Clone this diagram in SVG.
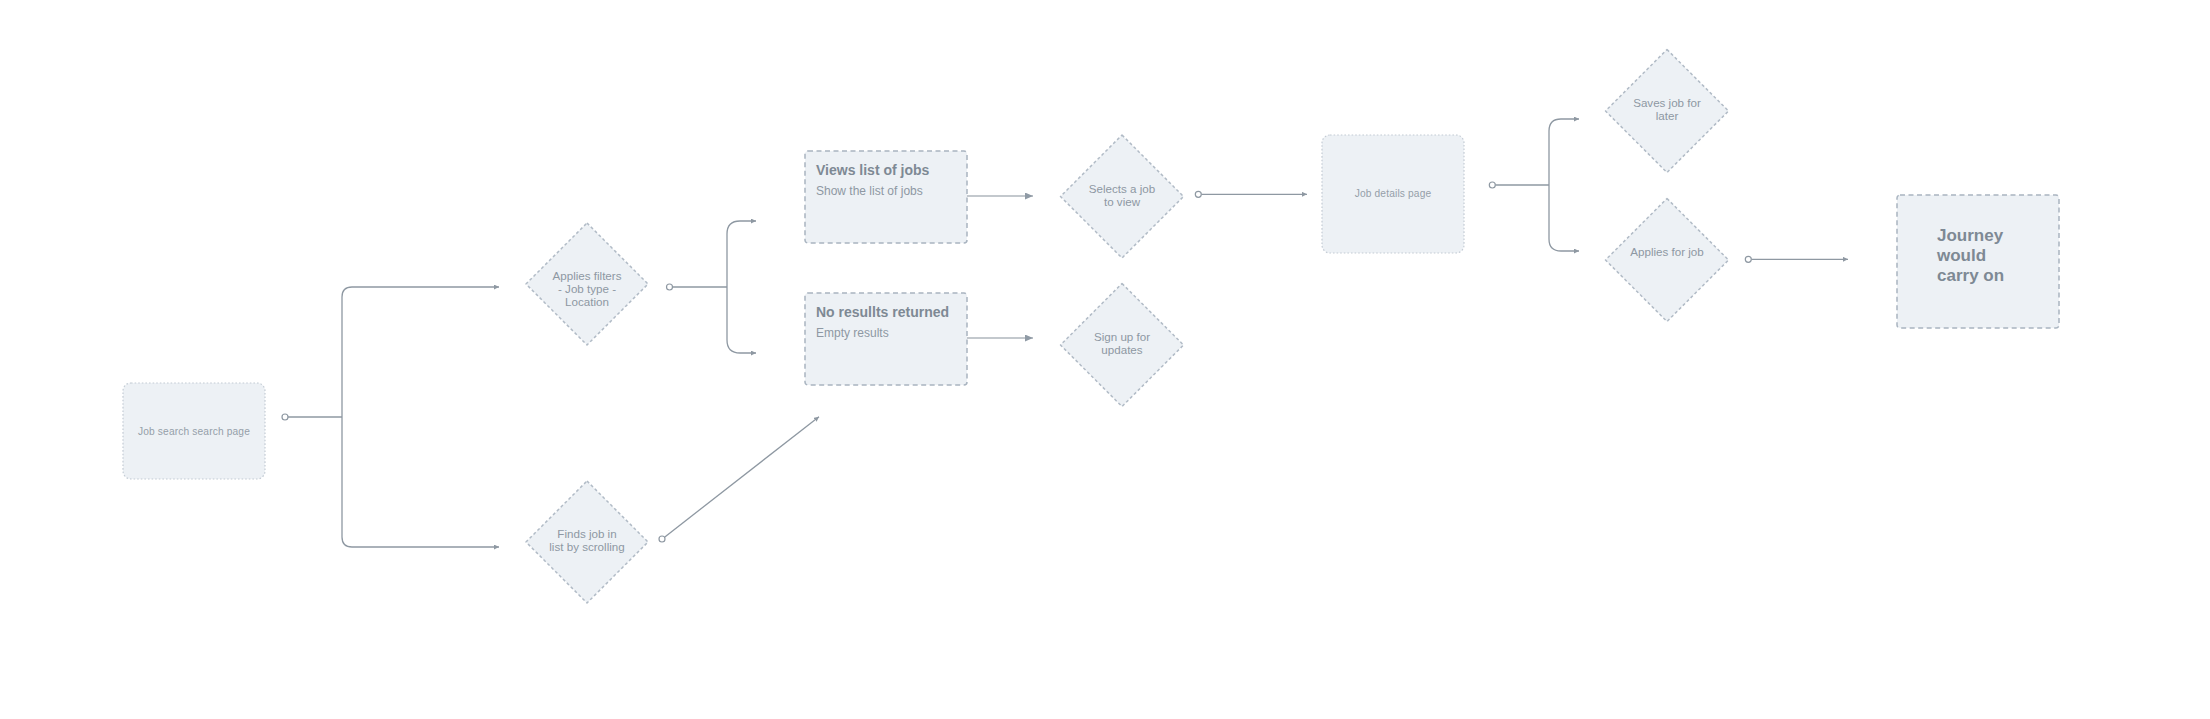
<svg xmlns="http://www.w3.org/2000/svg" width="2210" height="719" viewBox="0 0 2210 719">
<defs>
<style>
.page{fill:#edf1f5;stroke:#c3cbd4;stroke-width:1.2;stroke-dasharray:1.6 2}
.card{fill:#edf1f5;stroke:#a9b4c0;stroke-width:1.5;stroke-dasharray:5 3.5}
.dia{fill:#edf1f5;stroke:#b1bbc6;stroke-width:1.5;stroke-dasharray:3 2.5;stroke-linejoin:round}
.t{font-family:"Liberation Sans",Arial,sans-serif;fill:#8e98a3}
.small{font-size:10.2px;letter-spacing:0.15px;fill:#959fa9}
.dt{font-size:11.6px;text-anchor:middle}
.title{font-size:14px;font-weight:bold;fill:#7e8994}
.sub{font-size:12px;fill:#8e98a3}
.big{font-size:17px;font-weight:bold;fill:#7e8994}
.c{fill:none;stroke:#8e98a2;stroke-width:1.3}
.lc{fill:none;stroke:#c3c8cd;stroke-width:2}
.dot{fill:#ffffff;stroke:#8e98a2;stroke-width:1.2}
</style>
<marker id="sa" markerUnits="userSpaceOnUse" markerWidth="6" markerHeight="6" refX="5" refY="2.5" orient="auto-start-reverse">
<path d="M0,0 L5,2.5 L0,5 z" fill="#8e98a2"/>
</marker>
<marker id="ba" markerUnits="userSpaceOnUse" markerWidth="10" markerHeight="9" refX="8" refY="3.5" orient="auto">
<path d="M0,0 L8,3.5 L0,7 z" fill="#8f9aa5"/>
</marker>
</defs>
<rect width="2210" height="719" fill="#ffffff"/>

<g id="connectors">
<path class="c" d="M288,417 H342"/>
<path class="c" d="M499,287 H352 Q342,287 342,297 V537 Q342,547 352,547 H499" marker-start="url(#sa)" marker-end="url(#sa)"/>
<circle class="dot" cx="285" cy="417" r="3"/>

<path class="c" d="M672.5,287 H727"/>
<path class="c" d="M756,221 H740 Q727,221 727,234 V340 Q727,353 740,353 H756" marker-start="url(#sa)" marker-end="url(#sa)"/>
<circle class="dot" cx="669.5" cy="287" r="3"/>

<path class="lc" d="M967,196 H1033" marker-end="url(#ba)"/>
<path class="lc" d="M967,338 H1033" marker-end="url(#ba)"/>

<path class="c" d="M1201.3,194.3 H1307" marker-end="url(#sa)"/>
<circle class="dot" cx="1198.3" cy="194.3" r="3"/>

<path class="c" d="M1495.3,185 H1549"/>
<path class="c" d="M1579,119 H1561 Q1549,119 1549,131 V239 Q1549,251 1561,251 H1579" marker-start="url(#sa)" marker-end="url(#sa)"/>
<circle class="dot" cx="1492.3" cy="185" r="3"/>

<path class="c" d="M1751.3,259.3 H1848" marker-end="url(#sa)"/>
<circle class="dot" cx="1748.3" cy="259.3" r="3"/>

<path class="c" d="M664.5,537.2 L819,416.7" marker-end="url(#sa)"/>
<circle class="dot" cx="662" cy="539" r="3"/>
</g>

<g id="job-search-page">
<rect class="page" x="123" y="383" width="142" height="96" rx="8"/>
<text class="t small" x="194" y="435" text-anchor="middle">Job search search page</text>
</g>

<g id="applies-filters">
<polygon class="dia" points="587,223 648,284 587,345 526,284"/>
<text class="t dt"><tspan x="587" y="280">Applies filters</tspan><tspan x="587" y="293">- Job type  -</tspan><tspan x="587" y="306">Location</tspan></text>
</g>

<g id="finds-job">
<polygon class="dia" points="587,481 648,542 587,603 526,542"/>
<text class="t dt"><tspan x="587" y="538">Finds job in</tspan><tspan x="587" y="551">list by scrolling</tspan></text>
</g>

<g id="views-list">
<rect class="card" x="805" y="151" width="162" height="92" rx="3"/>
<text class="t title" x="816" y="175">Views list of jobs</text>
<text class="t sub" x="816" y="195">Show the list of jobs</text>
</g>

<g id="no-results">
<rect class="card" x="805" y="293" width="162" height="92" rx="3"/>
<text class="t title" x="816" y="317">No resullts returned</text>
<text class="t sub" x="816" y="337">Empty results</text>
</g>

<g id="selects-job">
<polygon class="dia" points="1122,135 1183.5,196.5 1122,258 1060.5,196.5"/>
<text class="t dt"><tspan x="1122" y="193">Selects a job</tspan><tspan x="1122" y="206">to view</tspan></text>
</g>

<g id="sign-up">
<polygon class="dia" points="1122,283.5 1183.5,345 1122,406.5 1060.5,345"/>
<text class="t dt"><tspan x="1122" y="341">Sign up for</tspan><tspan x="1122" y="354">updates</tspan></text>
</g>

<g id="job-details-page">
<rect class="page" x="1322" y="135" width="142" height="118" rx="8"/>
<text class="t small" x="1393" y="197" text-anchor="middle">Job details page</text>
</g>

<g id="saves-job">
<polygon class="dia" points="1667,49.5 1728.5,111 1667,172.5 1605.5,111"/>
<text class="t dt"><tspan x="1667" y="107">Saves job for</tspan><tspan x="1667" y="120">later</tspan></text>
</g>

<g id="applies-for-job">
<polygon class="dia" points="1667,198.5 1728.5,260 1667,321.5 1605.5,260"/>
<text class="t dt" x="1667" y="256">Applies for job</text>
</g>

<g id="journey">
<rect class="card" x="1897" y="195" width="162" height="133" rx="3"/>
<text class="t big"><tspan x="1937" y="241">Journey</tspan><tspan x="1937" y="261">would</tspan><tspan x="1937" y="281">carry on</tspan></text>
</g>
</svg>
